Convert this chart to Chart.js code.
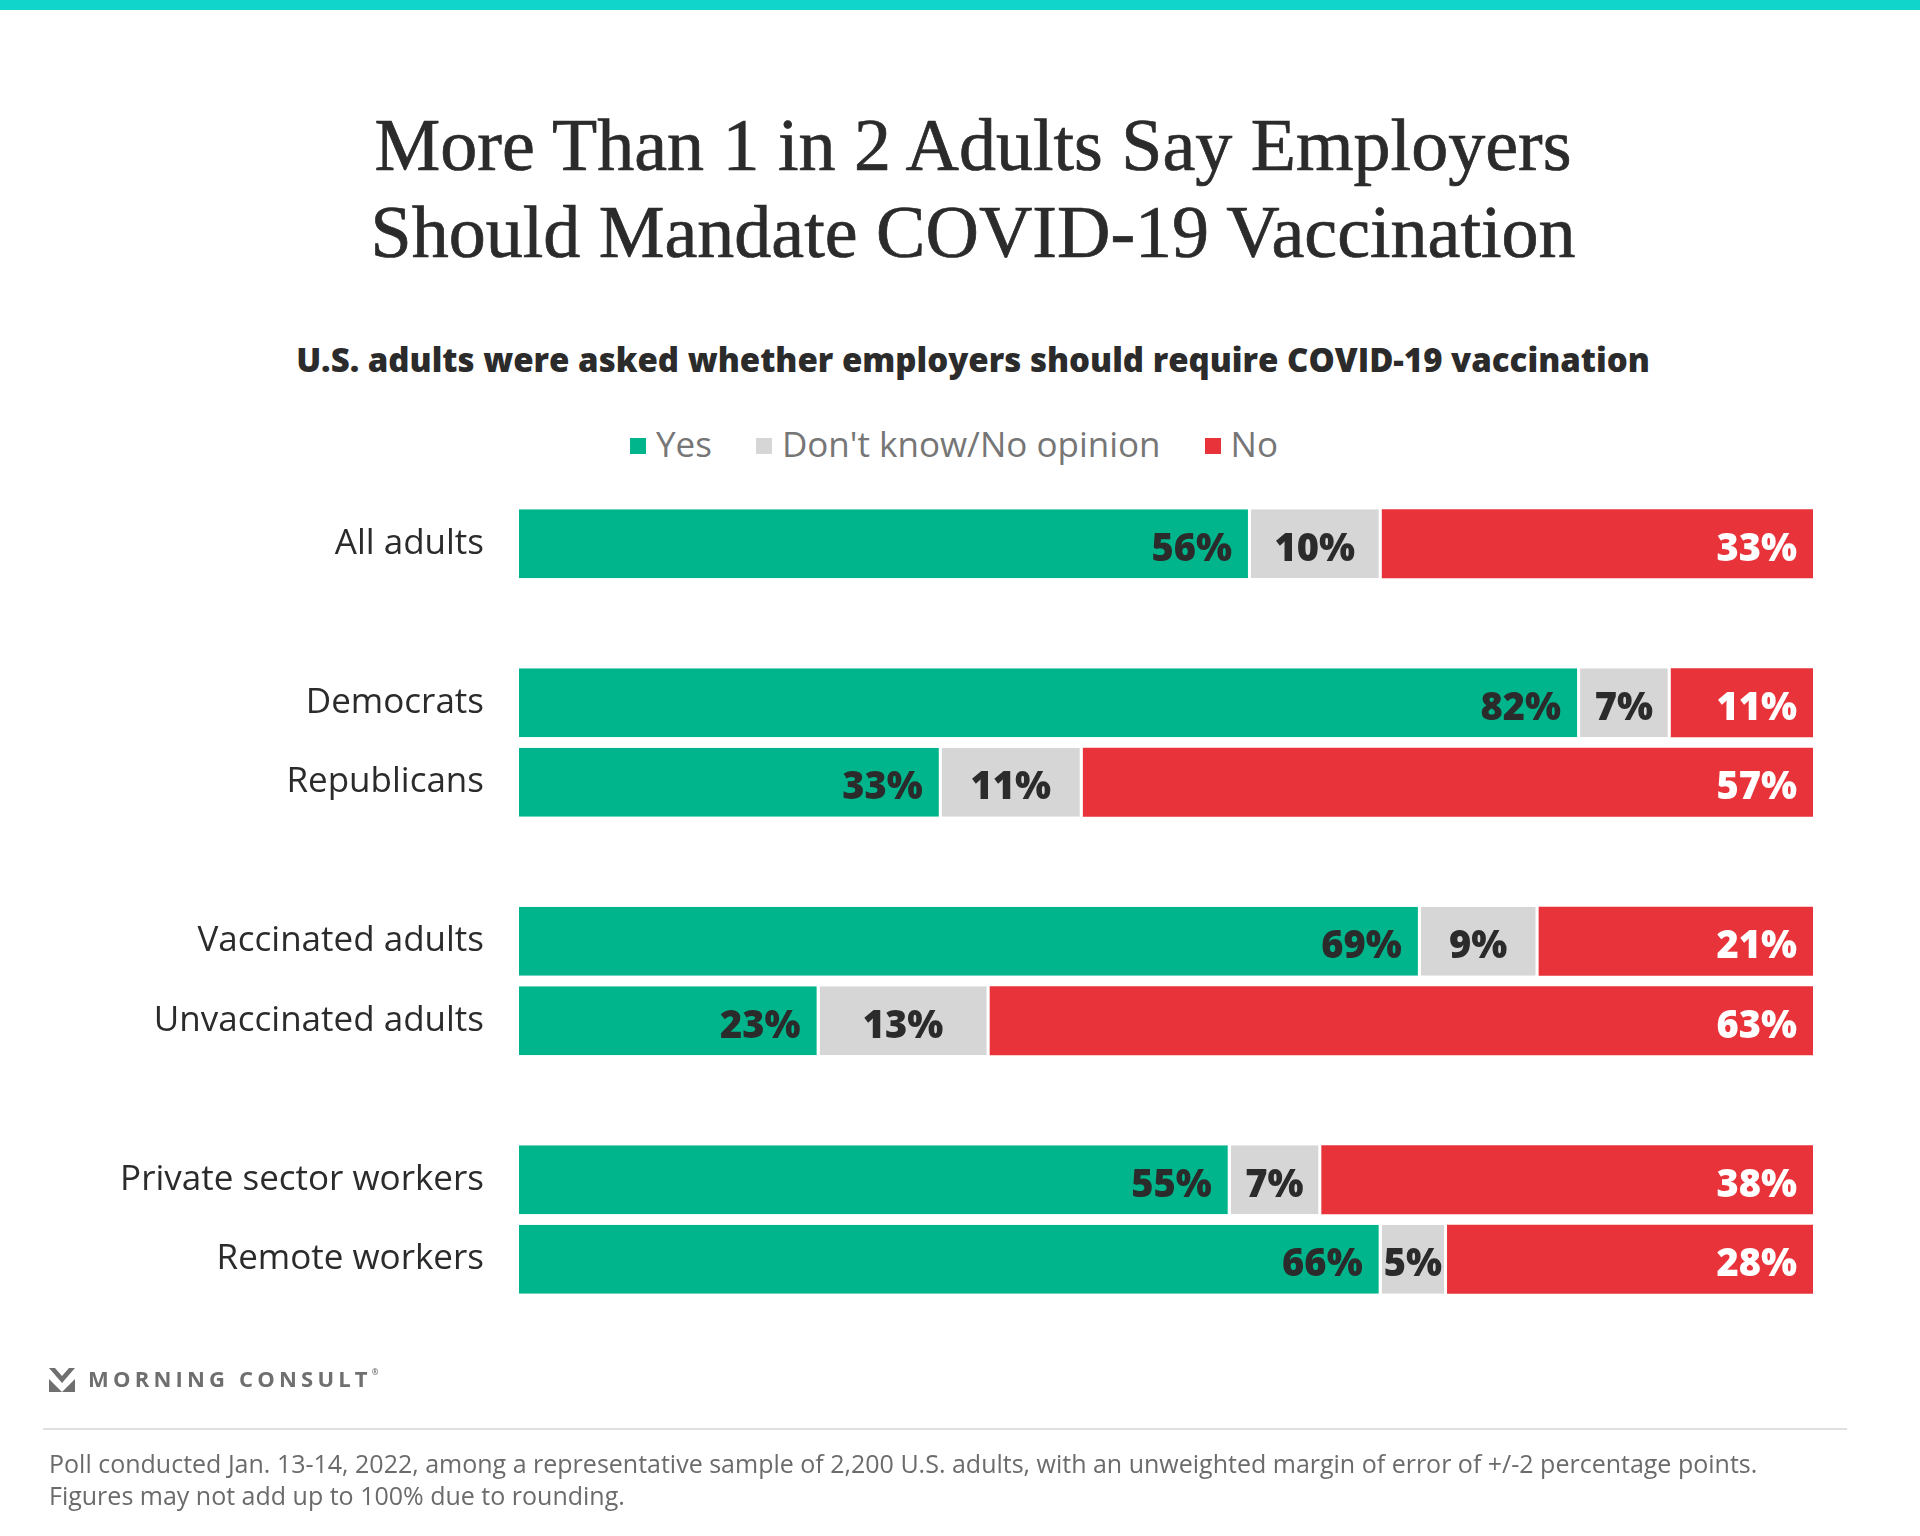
<!DOCTYPE html>
<html>
<head>
<meta charset="utf-8">
<script src="https://cdn.jsdelivr.net/npm/chart.js@4.4.1/dist/chart.umd.min.js"></script>
<style>
    html, body { margin: 0; padding: 0; background: #fff; }
    #page { position: relative; width: 1920px; height: 1536px; overflow: hidden; background: #fff; }
    #topbar { position: absolute; left: 0; top: 0; width: 1920px; height: 10px; background: #10d5cb; }
    .line { position: absolute; left: 0; width: 1946px; text-align: center; white-space: nowrap; line-height: 1; }
    .title { font-family: "Liberation Serif", serif; font-size: 74px; color: #2b2b2b; -webkit-text-stroke: 0.7px #2b2b2b; }
    .subtitle { font-family: "Open Sans", sans-serif; font-weight: 800; font-size: 33px; color: #2b2b2b; }
    #legend { position: absolute; left: 0; top: 426px; width: 1908px; display: flex; justify-content: center;
              font-family: "Open Sans", sans-serif; font-size: 35px; line-height: 1; color: #767676; }
    #legend .item { display: flex; align-items: flex-start; margin: 0 22px; }
    #legend .box { width: 16px; height: 16px; margin-top: 12px; margin-right: 10px; }
    #chart { position: absolute; left: 0; top: 0; }
    #logo { position: absolute; left: 49px; top: 1368px; }
    #brand { position: absolute; left: 88px; top: 1367px; font-family: "Open Sans", sans-serif; font-weight: 700;
             font-size: 22px; line-height: 1; letter-spacing: 4.2px; color: #6f6f6f; white-space: nowrap; }
    #brand sup { font-size: 8px; letter-spacing: 0; vertical-align: 12px; }
    #rule { position: absolute; left: 43px; top: 1428px; width: 1804px; height: 2px; background: #e0e0e0; }
    #note { position: absolute; left: 49px; top: 1447px; font-family: "Open Sans", sans-serif; font-size: 25px;
            line-height: 32px; color: #6b6b6b; white-space: nowrap; }
</style>
</head>
<body>
<div id="page">
    <div id="topbar"></div>
    <div class="line title" style="top:108px">More Than 1 in 2 Adults Say Employers</div>
    <div class="line title" style="top:195px">Should Mandate COVID-19 Vaccination</div>
    <div class="line subtitle" style="top:343px">U.S. adults were asked whether employers should require COVID-19 vaccination</div>
    <div id="legend"></div>
    <canvas id="chart" width="1920" height="1536"></canvas>
    <svg id="logo" width="26" height="24" viewBox="0 0 26 24">
        <polygon points="0,0 6,0 13,8 20,0 26,0 13,15" fill="#6f6f6f"/>
        <polygon points="0,11 13,24 0,24" fill="#6f6f6f"/>
        <polygon points="26,11 13,24 26,24" fill="#6f6f6f"/>
    </svg>
    <div id="brand">MORNING CONSULT<sup>®</sup></div>
    <div id="rule"></div>
    <div id="note">Poll conducted Jan. 13-14, 2022, among a representative sample of 2,200 U.S. adults, with an unweighted margin of error of +/-2 percentage points.<br>Figures may not add up to 100% due to rounding.</div>
</div>

<script>
// Dades (les files buides separen els grups)
const categories = [
    'All adults', '',
    'Democrats', 'Republicans', '',
    'Vaccinated adults', 'Unvaccinated adults', '',
    'Private sector workers', 'Remote workers'
];
const yesValues    = [56, null, 82, 33, null, 69, 23, null, 55, 66];
const unsureValues = [10, null,  7, 11, null,  9, 13, null,  7,  5];
const noValues     = [33, null, 11, 57, null, 21, 63, null, 38, 28];

const seriesNames  = ['Yes', "Don't know/No opinion", 'No'];
const seriesColors = ['#00b58b', '#d6d6d6', '#e8333a'];
const labelColors  = ['#2b2b2b', '#2b2b2b', '#ffffff'];
const rawSeries    = [yesValues, unsureValues, noValues];

// Cada barra ocupa tot l'ample (les xifres arrodonides no sempre sumen 100)
const rowTotals = categories.map((c, i) =>
    rawSeries.reduce((sum, s) => sum + (s[i] ?? 0), 0));
const toShare = (values) => values.map((v, i) =>
    v == null ? null : v / rowTotals[i] * 100);

const barLabels = {
    id: 'barLabels',
    afterDatasetsDraw(chart) {
        const ctx = chart.ctx;
        ctx.save();
        ctx.font = '800 38px "Open Sans", sans-serif';
        ctx.textBaseline = 'alphabetic';
        chart.data.datasets.forEach((ds, i) => {
            const meta = chart.getDatasetMeta(i);
            meta.data.forEach((bar, j) => {
                const raw = rawSeries[i][j];
                if (raw == null) return;
                const left = Math.min(bar.base, bar.x);
                const right = Math.max(bar.base, bar.x) - (i < 2 ? 3 : 0);
                const text = raw + '%';
                ctx.fillStyle = labelColors[i];
                if (i === 1) {
                    ctx.textAlign = 'center';
                    ctx.fillText(text, (left + right) / 2, bar.y + 17);
                } else {
                    ctx.textAlign = 'right';
                    ctx.fillText(text, right - 16, bar.y + 17);
                }
            });
        });
        ctx.restore();
    }
};

const chart = new Chart(document.getElementById('chart'), {
    type: 'bar',
    data: {
        labels: categories,
        datasets: rawSeries.map((values, i) => ({
            label: seriesNames[i],
            data: toShare(values),
            backgroundColor: seriesColors[i],
            borderColor: '#ffffff',
            borderWidth: i < 2 ? { top: 0, bottom: 0, left: 0, right: 3 } : 0,
            borderSkipped: false,
            barPercentage: 0.868,
            categoryPercentage: 1
        }))
    },
    options: {
        indexAxis: 'y',
        responsive: false,
        animation: false,
        devicePixelRatio: 1,
        layout: { padding: { left: 0, right: 107, top: 504, bottom: 237 } },
        plugins: {
            legend: { display: false },
            tooltip: { enabled: false }
        },
        scales: {
            x: {
                stacked: true,
                min: 0,
                max: 100,
                display: false
            },
            y: {
                stacked: true,
                grid: { display: false, drawTicks: false },
                border: { display: false },
                afterFit: (scale) => { scale.width = 519; },
                ticks: {
                    autoSkip: false,
                    padding: 35,
                    color: '#2b2b2b',
                    font: { family: '"Open Sans", sans-serif', size: 35 }
                }
            }
        }
    },
    plugins: [barLabels]
});

// Llegenda HTML a partir dels datasets
const legend = document.getElementById('legend');
chart.data.datasets.forEach(ds => {
    const item = document.createElement('div');
    item.className = 'item';
    const box = document.createElement('span');
    box.className = 'box';
    box.style.background = ds.backgroundColor;
    const txt = document.createElement('span');
    txt.textContent = ds.label;
    item.appendChild(box);
    item.appendChild(txt);
    legend.appendChild(item);
});
</script>
</body>
</html>
